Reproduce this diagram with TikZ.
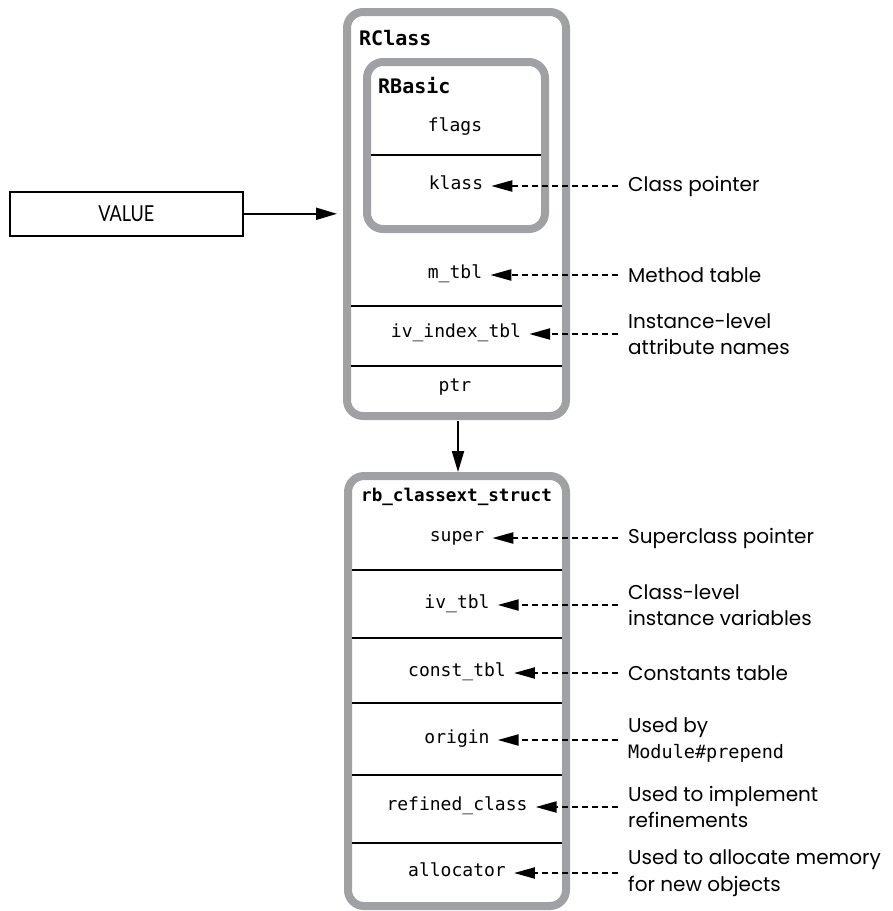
\documentclass[tikz,border=0pt]{standalone}
\usepackage{fontspec}
\setmonofont{DejaVu Sans Mono}
\newfontfamily\labelfont{Poppins}
\newfontfamily\valuefont[FakeStretch=0.82]{Lato}
\usetikzlibrary{arrows.meta}
\definecolor{boxgray}{RGB}{160,161,165}
\tikzset{
  graybox/.style={draw=boxgray, line width=8pt, rounded corners=16pt, inner sep=0pt, outer sep=0pt, anchor=north west},
  divider/.style={draw=black, line width=2pt},
  field/.style={font=\fontsize{18}{20}\selectfont\ttfamily, inner xsep=8pt, inner ysep=0pt, text height=0.6em, text depth=0pt},
  boxtitle/.style={anchor=base west, inner sep=0pt, font=\fontsize{20}{22}\selectfont\ttfamily\bfseries},
  note/.style={font=\fontsize{20}{26.5}\selectfont\labelfont, align=left, anchor=west, inner xsep=10pt, inner ysep=0pt},
  dashptr/.style={draw=black, line width=2.2pt, dash pattern=on 6.5pt off 3.5pt, -{Triangle[length=21pt,width=11pt]}},
  solidptr/.style={draw=black, line width=2pt, -{Triangle[length=21pt,width=12pt]}},
  valuebox/.style={draw=black, line width=1.6pt, minimum width=233pt, minimum height=44pt, inner sep=0pt, font=\fontsize{22}{24}\selectfont\valuefont}
}
\begin{document}
\begin{tikzpicture}[x=1pt, y=-1pt]
\useasboundingbox (0,0) rectangle (893,911);

% boxes
\node[graybox, minimum width=219pt, minimum height=404pt] (rclass) at (347,12) {};
\node[graybox, minimum width=178pt, minimum height=167pt] (rbasic) at (367,62) {};
\node[graybox, minimum width=218pt, minimum height=430pt] (rb) at (348,476) {};

% titles
\node[boxtitle] (tRClass) at (359,45.5) {RClass};
\node[boxtitle] (tRBasic) at (378,93.5) {RBasic};
\node[boxtitle, font=\fontsize{17.6}{20}\selectfont\ttfamily\bfseries] (tRb) at (361,501) {rb\_classext\_struct};

% dividers
\draw[divider] (371,155) -- (541,155);
\draw[divider] (351,306) -- (562,306);
\draw[divider] (351,366) -- (562,366);
\foreach \yy in {570,638,703,775,843}
  \draw[divider] (352,\yy) -- (562,\yy);

% fields
\node[field] (flags) at (455,128) {flags};
\node[field] (klass) at (456,186) {klass};
\node[field] (mtbl) at (455,275) {m\_tbl};
\node[field] (ividx) at (456,334) {iv\_index\_tbl};
\node[field] (ptr) at (455,388) {ptr};
\node[field] (super) at (457,538) {super};
\node[field] (ivtbl) at (457,605) {iv\_tbl};
\node[field] (consttbl) at (457,673) {const\_tbl};
\node[field] (origin) at (457,740) {origin};
\node[field] (refined) at (457,807) {refined\_class};
\node[field] (alloc) at (457,873) {allocator};

% notes
\node[note] (nKlass) at (618,186) {Class pointer};
\node[note] (nMtbl) at (618,275) {Method table};
\node[note] (nIvidx) at (618,334) {Instance-level\\attribute names};
\node[note] (nSuper) at (618,538) {Superclass pointer};
\node[note] (nIvtbl) at (618,605) {Class-level\\instance variables};
\node[note] (nConst) at (618,673) {Constants table};
\node[note] (nOrigin) at (618,740) {Used by\\{\ttfamily\fontsize{18.5}{26.5}\selectfont Module\#prepend}};
\node[note] (nRefined) at (618,807) {Used to implement\\refinements};
\node[note] (nAlloc) at (618,873) {Used to allocate memory\\for new objects};

% dashed pointers
\draw[dashptr] (nKlass.west) -- (klass.east);
\draw[dashptr] (nMtbl.west) -- (mtbl.east);
\draw[dashptr] (nIvidx.west) -- (ividx.east);
\draw[dashptr] (nSuper.west) -- (super.east);
\draw[dashptr] (nIvtbl.west) -- (ivtbl.east);
\draw[dashptr] (nConst.west) -- (consttbl.east);
\draw[dashptr] (nOrigin.west) -- (origin.east);
\draw[dashptr] (nRefined.west) -- (refined.east);
\draw[dashptr] (nAlloc.west) -- (alloc.east);

% VALUE
\node[valuebox, anchor=north west] (value) at (9,191) {VALUE};
\draw[solidptr, shorten >=10pt] (value.east) -- (value.east -| rclass.west);

% RClass -> rb
\coordinate (ptrtop) at ([xshift=1.5pt]rclass.south);
\draw[solidptr, shorten <=5pt, shorten >=4pt] (ptrtop) -- (ptrtop |- rb.north);
\end{tikzpicture}
\end{document}
